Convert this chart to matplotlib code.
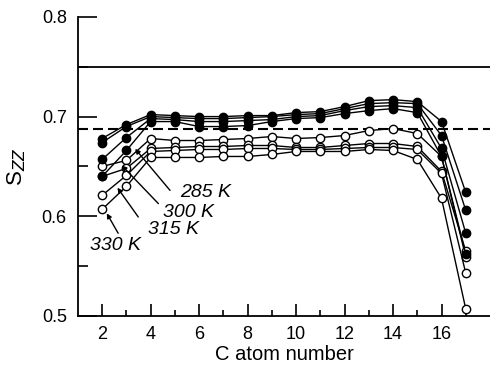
import matplotlib
matplotlib.use("Agg")
import matplotlib.pyplot as plt
from matplotlib.ticker import MultipleLocator, FixedLocator

plt.rcParams['font.family'] = ['Liberation Sans', 'DejaVu Sans']

carbon = list(range(2, 18))

# filled-circle series (285, 300, 315, 330 K)
filled_285 = [0.678, 0.692, 0.702, 0.701, 0.700, 0.700, 0.701, 0.701, 0.704, 0.705, 0.710, 0.716, 0.717, 0.715, 0.695, 0.624]
filled_300 = [0.674, 0.690, 0.700, 0.699, 0.698, 0.698, 0.699, 0.700, 0.702, 0.703, 0.708, 0.713, 0.714, 0.713, 0.681, 0.606]
filled_315 = [0.657, 0.679, 0.698, 0.697, 0.695, 0.695, 0.696, 0.697, 0.700, 0.701, 0.706, 0.710, 0.711, 0.709, 0.668, 0.583]
filled_330 = [0.640, 0.666, 0.695, 0.695, 0.690, 0.690, 0.691, 0.695, 0.698, 0.699, 0.703, 0.706, 0.708, 0.704, 0.660, 0.562]

# open-circle series (285, 300, 315, 330 K)
open_285 = [0.650, 0.656, 0.678, 0.676, 0.676, 0.677, 0.678, 0.680, 0.678, 0.679, 0.681, 0.686, 0.688, 0.683, 0.660, 0.559]
open_300 = [0.640, 0.648, 0.668, 0.669, 0.670, 0.670, 0.671, 0.671, 0.669, 0.669, 0.671, 0.673, 0.673, 0.670, 0.645, 0.565]
open_315 = [0.621, 0.641, 0.665, 0.666, 0.667, 0.667, 0.668, 0.668, 0.667, 0.667, 0.668, 0.669, 0.669, 0.667, 0.643, 0.543]
open_330 = [0.607, 0.630, 0.659, 0.659, 0.659, 0.660, 0.660, 0.662, 0.665, 0.665, 0.665, 0.667, 0.666, 0.657, 0.618, 0.507]

solid_ref = 0.75
dashed_ref = 0.6875

temp_labels = ['285 K', '300 K', '315 K', '330 K']
label_pos = [(5.2, 0.6235), (4.5, 0.6035), (3.88, 0.5865), (1.5, 0.5705)]
arrow_tail = [(4.80, 0.626), (4.32, 0.6127), (3.49, 0.5993), (2.66, 0.583)]
arrow_tip = [(3.36, 0.6677), (2.81, 0.651), (2.63, 0.6287), (2.19, 0.603)]

fig = plt.figure(figsize=(4.9, 3.67), dpi=100)
ax = fig.add_axes([0.159, 0.139, 0.841, 0.815])

ax.axhline(solid_ref, color='black', lw=1.3, zorder=1)
ax.axhline(dashed_ref, color='black', lw=1.5, ls=(0, (4.8, 2.4)), zorder=1)

for s in [open_285, open_300, open_315, open_330]:
    ax.plot(carbon, s, '-o', color='black', lw=1.0, ms=6.0, mfc='white',
            mec='black', mew=1.0, zorder=3)
for s in [filled_285, filled_300, filled_315, filled_330]:
    ax.plot(carbon, s, '-o', color='black', lw=1.0, ms=6.0, mfc='black',
            mec='black', mew=1.0, zorder=4)

for lab, pos, tail, tip in zip(temp_labels, label_pos, arrow_tail, arrow_tip):
    ax.text(pos[0], pos[1], lab, fontsize=14, style='italic', ha='left', va='center')
    ax.annotate('', xy=tip, xytext=tail,
                arrowprops=dict(arrowstyle='-|>', color='black', lw=1.0,
                                mutation_scale=7, shrinkA=0, shrinkB=0))

ax.set_xlim(1, 18)
ax.set_ylim(0.5, 0.8)
ax.xaxis.set_major_locator(FixedLocator([2, 4, 6, 8, 10, 12, 14, 16]))
ax.xaxis.set_minor_locator(FixedLocator([3, 5, 7, 9, 11, 13, 15, 17]))
ax.yaxis.set_major_locator(MultipleLocator(0.1))
ax.yaxis.set_minor_locator(MultipleLocator(0.05))

ax.spines['top'].set_visible(False)
ax.spines['right'].set_visible(False)
for sp in ['left', 'bottom']:
    ax.spines[sp].set_linewidth(1.3)

ax.tick_params(axis='x', which='major', direction='in', length=8.5, width=1.2, labelsize=13, pad=7)
ax.tick_params(axis='x', which='minor', direction='in', length=4, width=1.2)
ax.tick_params(axis='y', which='major', direction='in', length=13.5, width=1.2, labelsize=13, pad=8)
ax.tick_params(axis='y', which='minor', direction='in', length=7, width=1.2)

ax.set_xlabel('C atom number', fontsize=14.5, labelpad=2)
ax.set_ylabel(r'S$_{ZZ}$', fontsize=16, labelpad=10)

fig.savefig('out.png', dpi=100)
